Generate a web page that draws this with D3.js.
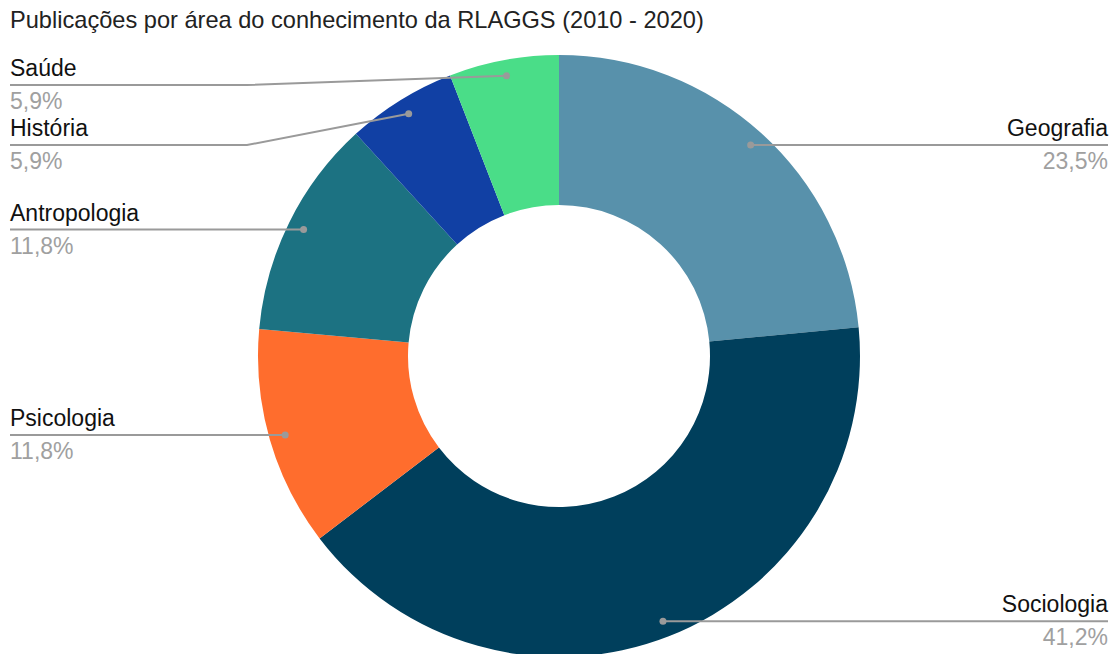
<!DOCTYPE html>
<html>
<head>
<meta charset="utf-8">
<script src="https://cdn.jsdelivr.net/npm/d3@7"></script>
<style>
  body { margin: 0; background: #fff; }
  svg text { font-family: "Liberation Sans", Arial, sans-serif; }
</style>
</head>
<body>
<div class="chart"></div>
<script>
// chart data
var areas = ["Geografia", "Sociologia", "Psicologia", "Antropologia", "História", "Saúde"];
var shares = [23.5, 41.2, 11.8, 11.8, 5.9, 5.9];
var shareLabels = ["23,5%", "41,2%", "11,8%", "11,8%", "5,9%", "5,9%"];
var sliceColors = ["#5891ab", "#003f5c", "#ff6d2d", "#1c7282", "#1140a4", "#4add88"];

var width = 1115, height = 654;
var cx = 559, cy = 356;
var outerR = 301, innerR = 151, dotR = 285;

var svg = d3.select("div.chart")
    .append("svg")
    .attr("width", width)
    .attr("height", height);

svg.append("text")
    .attr("x", 10)
    .attr("y", 28)
    .style("font-size", "23.6px")
    .style("fill", "#222")
    .text("Publicações por área do conhecimento da RLAGGS (2010 - 2020)");

var pie = d3.pie().sort(null).value(function (d) { return d; });
var arcs = pie(shares);

var arc = d3.arc().innerRadius(innerR).outerRadius(outerR);

var g = svg.append("g").attr("transform", "translate(" + cx + "," + cy + ")");

g.selectAll("path.slice")
    .data(arcs)
    .enter()
    .append("path")
    .attr("class", "slice")
    .attr("d", arc)
    .style("fill", function (d, i) { return sliceColors[i]; });

// label anchor points, in page coords
var labels = arcs.map(function (d, i) {
    var a = (d.startAngle + d.endAngle) / 2;
    return {
        i: i,
        x: cx + dotR * Math.sin(a),
        y: cy - dotR * Math.cos(a),
        right: a < Math.PI
    };
});

// push left labels down so they don't overlap (top to bottom)
var gap = 60, minY = 85;
var left = labels.filter(function (l) { return !l.right; })
    .sort(function (a, b) { return a.y - b.y; });
var prev = minY - gap;
left.forEach(function (l) {
    l.lineY = Math.max(l.y, prev + gap, minY);
    prev = l.lineY;
});
labels.filter(function (l) { return l.right; }).forEach(function (l) { l.lineY = l.y; });

var elbowX = 247;
var lineColor = "#9a9a9a";

labels.forEach(function (l) {
    var pts;
    var edge = l.right ? 1108 : 10;
    if (Math.abs(l.lineY - l.y) > 1) {
        pts = [[l.x, l.y], [elbowX, l.lineY], [edge, l.lineY]];
    } else {
        pts = [[l.x, l.lineY], [edge, l.lineY]];
    }
    svg.append("path")
        .attr("d", d3.line()(pts))
        .style("fill", "none")
        .style("stroke", lineColor)
        .style("stroke-width", 2);
    svg.append("circle")
        .attr("cx", l.x)
        .attr("cy", l.y)
        .attr("r", 3.5)
        .style("fill", lineColor);
    svg.append("text")
        .attr("x", edge)
        .attr("y", l.lineY - 9)
        .attr("text-anchor", l.right ? "end" : "start")
        .style("font-size", "23px")
        .style("fill", "#111")
        .text(areas[l.i]);
    svg.append("text")
        .attr("x", edge)
        .attr("y", l.lineY + 24)
        .attr("text-anchor", l.right ? "end" : "start")
        .style("font-size", "23px")
        .style("fill", "#a0a0a0")
        .text(shareLabels[l.i]);
});
</script>
</body>
</html>
